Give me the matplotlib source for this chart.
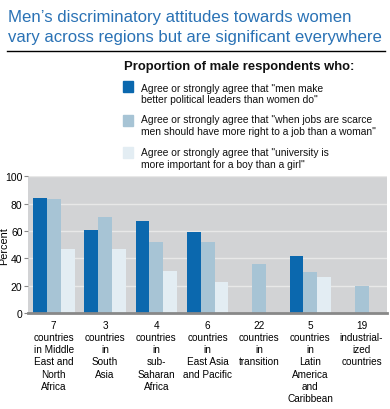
import matplotlib.pyplot as plt
import numpy as np

plt.rcParams['font.family'] = ['Liberation Sans', 'DejaVu Sans']

regions = ['7\ncountries\nin Middle\nEast and\nNorth\nAfrica',
           '3\ncountries\nin\nSouth\nAsia',
           '4\ncountries\nin\nsub-\nSaharan\nAfrica',
           '6\ncountries\nin\nEast Asia\nand Pacific',
           '22\ncountries\nin\ntransition',
           '5\ncountries\nin\nLatin\nAmerica\nand\nCaribbean',
           '19\nindustrial-\nized\ncountries']
leaders = [84, 61, 67, 59, np.nan, 42, np.nan]
jobs = [83, 70, 52, 52, 36, 30, 20]
university = [47, 47, 31, 23, np.nan, 26, np.nan]

labels = ['Agree or strongly agree that "men make\nbetter political leaders than women do"',
          'Agree or strongly agree that "when jobs are scarce\nmen should have more right to a job than a woman"',
          'Agree or strongly agree that "university is\nmore important for a boy than a girl"']
colors = ['#0b68ae', '#a7c4d5', '#e3edf3']

fig = plt.figure(figsize=(3.9, 4.1), dpi=100)

# title and rule under it
title_col = '#2a72b5'
fig.text(0.02, 0.947, "Men\u2019s discriminatory attitudes towards women",
         color=title_col, fontsize=12.1, va='baseline', ha='left')
fig.text(0.02, 0.898, "vary across regions but are significant everywhere",
         color=title_col, fontsize=12.1, va='baseline', ha='left')
fig.add_artist(plt.Line2D([0.017, 0.987], [0.874, 0.874], color='black', lw=1))

fig.text(0.318, 0.829, 'Proportion of male respondents who:', fontsize=9.4,
         fontweight='bold', va='baseline', ha='left', color='#111111')

# legend, drawn by hand
sq_y = [0.7859, 0.7044, 0.6261]
txt_y = [0.7695, 0.6917, 0.6112]
for sy, ty, c, lab in zip(sq_y, txt_y, colors, labels):
    fig.add_artist(plt.Rectangle((0.316, sy - 0.0134), 0.0256, 0.0268, color=c,
                                 transform=fig.transFigure))
    fig.text(0.362, ty, lab, fontsize=7.4, va='center', ha='left', color='#111111',
             linespacing=1.23)

ax = fig.add_axes([0.072, 0.234, 0.921, 0.334])
ax.set_facecolor('#d2d3d5')
x = np.arange(len(regions))
w = 0.27
ax.bar(x - w, leaders, w, color=colors[0], zorder=3)
ax.bar(x, jobs, w, color=colors[1], zorder=3)
ax.bar(x + w, university, w, color=colors[2], zorder=3)

ax.set_xlim(-0.5, len(regions) - 0.5)
ax.set_ylim(0, 100)
ax.set_yticks([0, 20, 40, 60, 80, 100])
ax.yaxis.grid(True, color='#e8e8e8', lw=1, zorder=1)
ax.set_ylabel('Percent', fontsize=7.8)
ax.yaxis.set_label_coords(-0.053, 0.5)
ax.tick_params(axis='y', labelsize=7.5, length=3, color='#888888', pad=1)
ax.set_xticks(x)
ax.set_xticklabels(regions, fontsize=7.2, linespacing=1.27, va='top')
ax.tick_params(axis='x', length=0, pad=5)
for s in ['top', 'right', 'left']:
    ax.spines[s].set_visible(False)
ax.spines['bottom'].set_color('#888888')
ax.spines['bottom'].set_linewidth(2)
ax.spines['bottom'].set_zorder(4)

fig.savefig('out.png', dpi=100)
